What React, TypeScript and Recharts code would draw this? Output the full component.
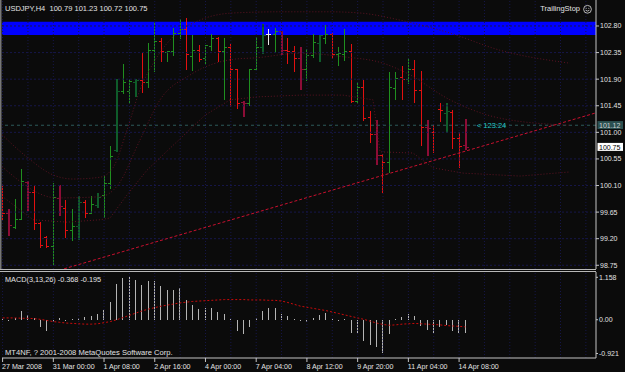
import React from 'react';
import {
  ComposedChart,
  Bar,
  Line,
  XAxis,
  YAxis,
  ReferenceLine,
  ReferenceArea,
  ReferenceDot,
} from 'recharts';

// ---------------- data ----------------
const headerText = 'USDJPY,H4  100.79 101.23 100.72 100.75';
const indicatorName = 'TrailingStop';
const macdTitle = 'MACD(3,13,26) -0.368 -0.195';
const copyrightText = 'MT4NF, ? 2001-2008 MetaQuotes Software Corp.';

const barOpen = [
  99.95, 99.63, 99.39, 99.54, 100.16, 99.99, 99.47, 99.23, 99.07, 99.89,
  99.72, 99.35, 99.41, 99.82, 99.64, 99.77, 99.94, 100.15, 100.7, 101.7,
  101.7, 101.86, 101.88, 101.86, 102.4, 102.55, 102.36, 102.37, 102.68, 102.75,
  102.3, 102.39, 102.25, 102.46, 102.6, 102.38, 102.44, 102.07, 101.51, 101.49,
  102.07, 102.44, 102.66, 102.66, 102.72, 102.4, 102.38, 102.25, 102.08, 102.31,
  102.51, 102.59, 102.66, 102.32, 102.33, 102.37, 101.53, 101.77, 101.26, 100.97,
  100.61, 100.5, 101.75, 101.93, 101.91, 102.08, 101.72, 101.09, 101.01, 101.4,
  101.32, 101.35, 100.9, 100.79,
];
const barHigh = [
  100.12, 99.71, 99.88, 100.38, 100.17, 100.11, 99.48, 99.24, 100.14, 100.11,
  99.85, 99.71, 99.92, 99.85, 99.92, 99.98, 100.26, 100.77, 101.91, 102.15,
  101.9, 101.9, 102.34, 102.52, 102.86, 102.6, 102.38, 102.76, 102.92, 102.93,
  102.65, 102.48, 102.48, 102.66, 102.61, 102.59, 102.49, 102.08, 101.53, 102.08,
  102.61, 102.83, 102.75, 102.76, 102.72, 102.59, 102.46, 102.44, 102.41, 102.66,
  102.65, 102.82, 102.68, 102.45, 102.75, 102.49, 101.86, 101.88, 101.36, 101.21,
  100.63, 102.02, 102.02, 102.12, 102.26, 102.22, 102.03, 101.21, 101.12, 101.49,
  101.49, 101.38, 101.01, 101.23,
];
const barLow = [
  99.53, 99.26, 99.38, 99.53, 99.68, 99.37, 99.06, 99.06, 98.78, 99.6,
  99.23, 99.17, 99.19, 99.56, 99.64, 99.74, 99.57, 100.06, 100.69, 101.66,
  101.49, 101.61, 101.69, 101.77, 102.04, 102.2, 102.21, 102.31, 102.59, 102.08,
  102.05, 102.21, 102.18, 102.39, 102.2, 101.57, 101.45, 101.42, 101.28, 101.46,
  102.07, 102.34, 102.49, 102.36, 102.32, 102.17, 102.04, 101.74, 101.88, 102.28,
  102.21, 102.51, 102.26, 102.14, 102.22, 101.52, 101.49, 101.21, 100.84, 100.47,
  99.99, 100.33, 101.57, 101.57, 101.84, 101.52, 100.78, 100.61, 100.67, 101.19,
  101.01, 100.73, 100.42, 100.72,
];
const barClose = [
  99.63, 99.44, 99.53, 100.17, 99.99, 99.47, 99.1, 99.07, 99.9, 99.75,
  99.35, 99.41, 99.82, 99.64, 99.79, 99.91, 100.15, 100.6, 101.7, 101.86,
  101.87, 101.88, 101.86, 102.4, 102.55, 102.38, 102.37, 102.68, 102.75, 102.32,
  102.39, 102.24, 102.47, 102.6, 102.38, 102.44, 102.07, 101.49, 101.49, 102.08,
  102.44, 102.65, 102.66, 102.72, 102.39, 102.38, 102.25, 102.08, 102.31, 102.53,
  102.64, 102.66, 102.32, 102.35, 102.37, 101.53, 101.77, 101.25, 100.98, 100.61,
  100.5, 101.77, 101.92, 101.9, 102.08, 101.72, 101.09, 101.08, 101.0, 101.38,
  101.36, 100.9, 100.77, 100.75,
];
const macdMain = [
  0.02, -0.03, 0.04, 0.245, 0.13, 0.06, -0.19, -0.3, -0.05, 0.05,
  -0.01, 0.01, 0.05, 0.07, 0.09, 0.15, 0.26, 0.49, 0.97, 1.145,
  1.158, 1.09, 0.95, 1.06, 1.05, 0.93, 0.81, 0.81, 0.87, 0.54,
  0.4, 0.29, 0.31, 0.33, 0.2, 0.17, 0.01, -0.31, -0.4, -0.19,
  0.05, 0.24, 0.31, 0.33, 0.17, 0.1, 0.01, -0.02, -0.07, 0.05,
  0.13, 0.19, 0.02, -0.01, 0.01, -0.36, -0.37, -0.58, -0.7, -0.74,
  -0.921, -0.39, 0.03, 0.08, 0.17, 0.09, -0.17, -0.29, -0.37, -0.21,
  -0.15, -0.31, -0.37, -0.368,
];
const macdSignal = [
  0.05, 0.05, 0.05, 0.04, 0.04, 0.03, 0.01, -0.02, -0.05, -0.07,
  -0.09, -0.1, -0.11, -0.12, -0.12, -0.11, -0.08, -0.05, 0.0, 0.06,
  0.12, 0.18, 0.24, 0.29, 0.33, 0.37, 0.4, 0.43, 0.46, 0.48,
  0.5, 0.51, 0.52, 0.53, 0.54, 0.55, 0.55, 0.55, 0.55, 0.54,
  0.54, 0.54, 0.53, 0.53, 0.51, 0.47, 0.42, 0.37, 0.34, 0.31,
  0.28, 0.25, 0.21, 0.17, 0.13, 0.09, 0.05, 0.01, -0.04, -0.09,
  -0.13, -0.15, -0.14, -0.12, -0.11, -0.1, -0.11, -0.12, -0.13, -0.14,
  -0.16, -0.17, -0.18, -0.195,
];
// shifted band indicator (faint dotted curves), sampled at bar positions
const upperBandBars = [-0.09, 3.85, 7.95, 11.1, 15.36, 17.41, 19.62, 21.67, 24.04, 27.19, 31.14, 36.34, 43.75, 51.64, 56.37, 62.68, 70.57, 78.45, 89.5];
const upperBandPrices = [100.96, 100.58, 100.28, 100.21, 100.24, 100.4, 101.04, 101.72, 102.22, 102.65, 102.9, 103.02, 103.04, 103.04, 103.02, 102.9, 102.68, 102.39, 102.17];
const middleBandBars = [-0.09, 8.58, 15.36, 18.2, 21.67, 24.83, 29.56, 36.66, 39.81, 46.91, 53.69, 60.0, 63.79, 70.57, 78.45, 89.5];
const middleBandPrices = [100.42, 99.89, 99.91, 100.11, 100.87, 101.55, 101.97, 102.24, 102.26, 102.34, 102.28, 102.17, 102.0, 101.55, 101.24, 101.12];
const lowerBandBars = [-0.09, 4.8, 10.16, 15.36, 16.94, 19.62, 22.78, 24.83, 31.92, 35.87, 40.13, 46.91, 53.69, 58.42, 59.53, 64.73, 67.89, 72.62, 81.6, 89.5];
const lowerBandPrices = [99.92, 99.52, 99.48, 99.52, 99.55, 99.94, 100.36, 100.57, 101.29, 101.55, 101.6, 101.63, 101.63, 101.55, 100.67, 100.65, 100.4, 100.31, 100.26, 100.33];

const timeLabels = [
  '27 Mar 2008', '31 Mar 00:00', '1 Apr 08:00', '2 Apr 16:00', '4 Apr 00:00',
  '7 Apr 04:00', '8 Apr 12:00', '9 Apr 20:00', '11 Apr 04:00', '14 Apr 08:00',
];
const timeLabelBars = [0, 8, 16, 24, 32, 40, 48, 56, 64, 72];
const gridBars = [0, 4, 8, 12, 16, 20, 24, 28, 32, 36, 40, 44, 48, 52, 56, 60, 64, 68, 72, 76, 80, 84, 88, 92];
const priceTicks = [98.75, 99.2, 99.65, 100.1, 100.55, 101.0, 101.45, 101.9, 102.35, 102.8];
const macdTicks = [1.158, 0, -0.921];
const trendLine = [
  { bar: 9.7, price: 98.69 },
  { bar: 93.59, price: 101.33 },
];
const stopZone = [102.648, 102.873];
const alertLevel = 101.12;
const bidPrice = 100.75;
const timerText = '< 123:24';
const timerBar = 74.8;

// ---------------- styling ----------------
const FONT = '"Liberation Sans", Arial, sans-serif';
const BG = '#0b0b0b';
const AXIS = '#c4c4c4';
const TEXT = '#e2e2e2';
const GRID = '#17174a';
const BAND = '#5c1222';
const UP = '#1f8f1f';
const DOWN = '#e31010';
const DOJI = '#e8e8e8';
const UP_DIM = '#0f5c2a';
const DOWN_DIM = '#8c0d36';
const dimBars = [1, 4, 9, 12, 15, 18, 21, 38, 41, 44, 47, 50, 59, 67, 70, 73];
const X_DOMAIN: [number, number] = [-0.0946, 93.596];

const rows = barOpen.map((o, i) => ({
  i,
  o,
  h: barHigh[i],
  l: barLow[i],
  c: barClose[i],
  m: macdMain[i],
  s: macdSignal[i],
}));
const toBand = (bars: number[], prices: number[]) => bars.map((b, k) => ({ i: b, v: prices[k] }));
const upperBand = toBand(upperBandBars, upperBandPrices);
const middleBand = toBand(middleBandBars, middleBandPrices);
const lowerBand = toBand(lowerBandBars, lowerBandPrices);

function OhlcBar(props: any) {
  const { x, y, width, height, payload } = props;
  if (x == null || payload == null) return null;
  const top = Math.min(y, y + height);
  const bot = Math.max(y, y + height);
  const span = payload.h - payload.l || 1;
  const py = (v: number) => Math.round(top + ((payload.h - v) / span) * (bot - top));
  const cx = Math.floor(x + width / 2);
  const dim = dimBars.includes(payload.i);
  const flat = payload.c === payload.o;
  const up = payload.c > payload.o;
  const color = flat ? DOJI : up ? (dim ? UP_DIM : UP) : dim ? DOWN_DIM : DOWN;
  const w = dim ? 2 : 1;
  const yt = Math.round(top);
  const yb = Math.round(bot);
  return (
    <g shapeRendering="crispEdges">
      <rect x={cx} y={yt} width={w} height={Math.max(1, yb - yt + 1)} fill={color} />
      <rect x={cx - 2} y={py(payload.o)} width={2} height={1} fill={color} />
      <rect x={cx + w} y={py(payload.c)} width={2} height={1} fill={color} />
    </g>
  );
}

function HistBar(props: any) {
  const { x, y, width, height } = props;
  if (x == null || y == null) return null;
  const top = Math.round(Math.min(y, y + height));
  const bot = Math.round(Math.max(y, y + height));
  const cx = Math.floor(x + width / 2);
  return <rect x={cx} y={top} width={1} height={Math.max(1, bot - top)} fill="#b4b4b4" shapeRendering="crispEdges" />;
}

function DateTick(props: any) {
  const { x, y, payload } = props;
  const idx = timeLabelBars.indexOf(payload.value);
  if (idx < 0) return null;
  return (
    <text x={x - 0.5} y={y} dy={4.5} fill={TEXT} fontSize={7.1} fontFamily={FONT} textAnchor="start">
      {timeLabels[idx]}
    </text>
  );
}

function PriceTag(props: any) {
  const { viewBox, value, bg, fg } = props;
  if (!viewBox) return null;
  const x0 = viewBox.x + viewBox.width + 1.5;
  const yc = viewBox.y;
  return (
    <g>
      <rect x={x0} y={yc - 4.2} width={25.5} height={8} fill={bg} />
      <text x={x0 + 1.5} y={yc} dy="0.35em" fill={fg} fontSize={7} fontFamily={FONT}>
        {value}
      </text>
    </g>
  );
}

export default function App() {
  return (
    <div
      style={{
        position: 'absolute',
        left: 0,
        top: 0,
        width: 625,
        height: 372,
        background: BG,
        overflow: 'hidden',
        fontFamily: FONT,
      }}
    >
      {/* main price panel */}
      <div style={{ position: 'absolute', left: 0, top: 0 }}>
        <ComposedChart width={625} height={270} data={rows} margin={{ top: 0, right: 0, bottom: 1, left: 2 }}>
          <XAxis type="number" dataKey="i" domain={X_DOMAIN} allowDataOverflow hide />
          <YAxis
            orientation="right"
            type="number"
            domain={[98.687, 103.24]}
            allowDataOverflow
            ticks={priceTicks}
            interval={0}
            width={29}
            tickSize={3}
            tickMargin={1}
            tickFormatter={(v: number) => v.toFixed(2)}
            tick={{ fill: TEXT, fontSize: 7, fontFamily: FONT }}
            axisLine={{ stroke: AXIS }}
            tickLine={{ stroke: AXIS }}
          />
          <ReferenceArea y1={stopZone[0]} y2={stopZone[1]} fill="#0000ff" fillOpacity={1} stroke="none" />
          {priceTicks.map((p) => (
            <ReferenceLine key={'h' + p} y={p} stroke={GRID} strokeDasharray="2 2" />
          ))}
          {gridBars.map((b) => (
            <ReferenceLine key={'v' + b} x={b} stroke={GRID} strokeDasharray="1 2" />
          ))}
          <ReferenceLine
            y={alertLevel}
            stroke="#2c5a5a"
            strokeDasharray="3 3"
            label={(p: any) => <PriceTag viewBox={p.viewBox} value={alertLevel.toFixed(2)} bg="#2b5050" fg="#d0d0d0" />}
          />
          <ReferenceLine
            y={bidPrice}
            stroke="none"
            label={(p: any) => <PriceTag viewBox={p.viewBox} value={bidPrice.toFixed(2)} bg="#ffffff" fg="#000000" />}
          />
          <Line data={upperBand} dataKey="v" type="monotone" stroke={BAND} strokeDasharray="1 2" dot={false} isAnimationActive={false} />
          <Line data={middleBand} dataKey="v" type="monotone" stroke={BAND} strokeDasharray="1 2" dot={false} isAnimationActive={false} />
          <Line data={lowerBand} dataKey="v" type="linear" stroke={BAND} strokeDasharray="1 2" dot={false} isAnimationActive={false} />
          <ReferenceLine
            segment={[
              { x: trendLine[0].bar, y: trendLine[0].price },
              { x: trendLine[1].bar, y: trendLine[1].price },
            ]}
            stroke="#c8102e"
            strokeDasharray="3 2"
            ifOverflow="visible"
          />
          <ReferenceDot
            x={timerBar}
            y={alertLevel}
            r={0}
            shape={(p: any) => (
              <text x={p.cx} y={p.cy} dy="0.35em" fill="#22c8c8" fontSize={7.5} fontFamily={FONT}>
                {timerText}
              </text>
            )}
          />
          <Bar
            dataKey={(d: any) => [d.l, d.h]}
            barSize={4}
            shape={OhlcBar}
            isAnimationActive={false}
          />
        </ComposedChart>
      </div>

      {/* MACD panel */}
      <div style={{ position: 'absolute', left: 0, top: 270 }}>
        <ComposedChart width={625} height={102} data={rows} margin={{ top: 2, right: 0, bottom: 0, left: 2 }}>
          <XAxis
            type="number"
            dataKey="i"
            domain={X_DOMAIN}
            allowDataOverflow
            ticks={timeLabelBars}
            interval={0}
            height={14}
            tickSize={4}
            tickMargin={2}
            tick={<DateTick />}
            axisLine={{ stroke: AXIS }}
            tickLine={{ stroke: AXIS }}
          />
          <YAxis
            orientation="right"
            type="number"
            domain={[-1.0438, 1.3026]}
            allowDataOverflow
            ticks={macdTicks}
            interval={0}
            width={29}
            tickSize={2}
            tickMargin={1}
            tickFormatter={(v: number) => (v === 0 ? '0.00' : v.toFixed(3))}
            tick={{ fill: TEXT, fontSize: 7, fontFamily: FONT }}
            axisLine={{ stroke: AXIS }}
            tickLine={{ stroke: AXIS }}
          />
          {gridBars.map((b) => (
            <ReferenceLine key={'mv' + b} x={b} stroke={GRID} strokeDasharray="1 2" />
          ))}
          <Bar dataKey="m" barSize={4} shape={HistBar} isAnimationActive={false} />
          <Line
            dataKey="s"
            type="linear"
            stroke="#cc0a0a"
            strokeWidth={1}
            strokeDasharray="2 2"
            dot={false}
            isAnimationActive={false}
          />
        </ComposedChart>
      </div>

      {/* static texts and panel frames */}
      <svg width={625} height={372} style={{ position: 'absolute', left: 0, top: 0, pointerEvents: 'none' }}>
        <rect x={0} y={0} width={1.5} height={269} fill="#777777" />
        <rect x={0} y={269} width={596} height={1} fill="#b8b8b8" />
        <rect x={0} y={271} width={596} height={1} fill="#b8b8b8" />
        <text x={5} y={10.5} fill={TEXT} fontSize={7.5} fontFamily={FONT} style={{ whiteSpace: 'pre' }}>
          {headerText}
        </text>
        <text x={580} y={10.8} fill={TEXT} fontSize={7.5} fontFamily={FONT} textAnchor="end">
          {indicatorName}
        </text>
        <g stroke="#c8c8c8" fill="none" strokeWidth={0.9}>
          <circle cx={587.5} cy={9.3} r={3.9} />
          <path d="M585.6 10.2 Q587.5 12 589.4 10.2" />
        </g>
        <circle cx={586.2} cy={8.3} r={0.55} fill="#c8c8c8" />
        <circle cx={588.8} cy={8.3} r={0.55} fill="#c8c8c8" />
        <text x={5} y={282.3} fill={TEXT} fontSize={7.3} fontFamily={FONT}>
          {macdTitle}
        </text>
        <text x={5} y={354.8} fill={TEXT} fontSize={7.6} fontFamily={FONT}>
          {copyrightText}
        </text>
      </svg>
    </div>
  );
}
